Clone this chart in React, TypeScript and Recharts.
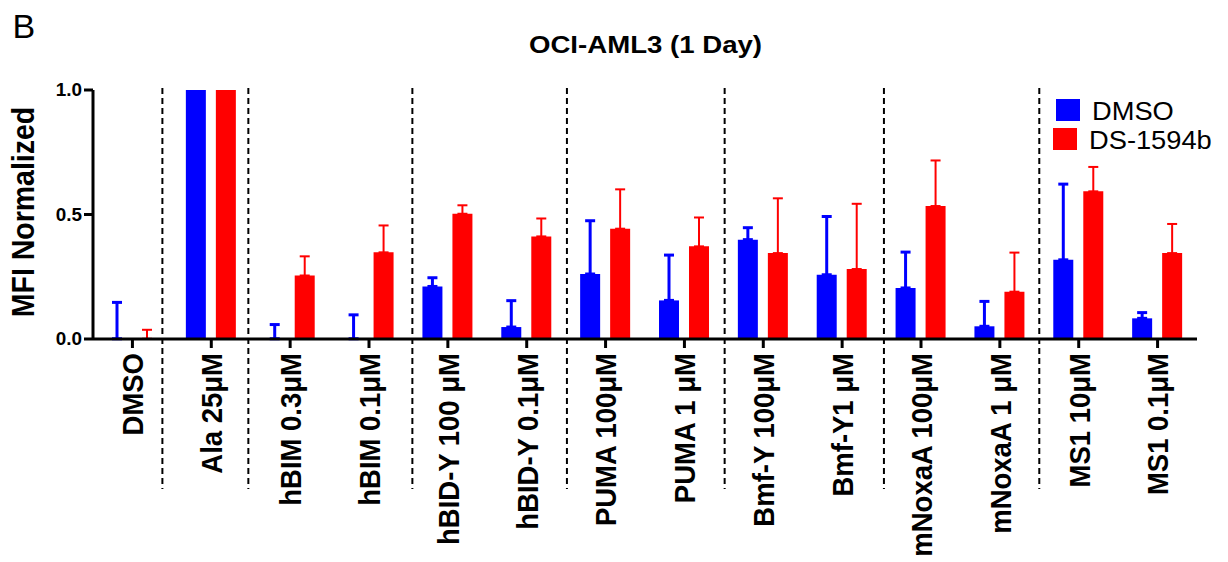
import { Bar, BarChart, ErrorBar, Legend, ReferenceLine, XAxis, YAxis } from 'recharts'

const categories = [
  'DMSO',
  'Ala 25μM',
  'hBIM 0.3μM',
  'hBIM 0.1μM',
  'hBID-Y 100 μM',
  'hBID-Y 0.1μM',
  'PUMA 100μM',
  'PUMA 1 μM',
  'Bmf-Y 100μM',
  'Bmf-Y1 μM',
  'mNoxaA 100μM',
  'mNoxaA 1 μM',
  'MS1 10μM',
  'MS1 0.1μM',
]

// near-zero means are kept just above 0 so that their SD whiskers are still drawn
const dmso = [0.001, 1.0, 0.001, 0.001, 0.211, 0.048, 0.261, 0.155, 0.399, 0.258, 0.205, 0.051, 0.318, 0.083]
const dmsoSd = [0.146, 0, 0.057, 0.096, 0.035, 0.106, 0.214, 0.182, 0.048, 0.234, 0.144, 0.1, 0.304, 0.023]
const ds1594b = [0.001, 1.0, 0.255, 0.348, 0.503, 0.412, 0.443, 0.372, 0.345, 0.281, 0.534, 0.19, 0.593, 0.345]
const ds1594bSd = [0.036, 0, 0.077, 0.108, 0.034, 0.072, 0.158, 0.116, 0.22, 0.262, 0.183, 0.157, 0.098, 0.117]

// group separators, in category index units
const separators = [0.38, 1.47, 3.55, 5.51, 7.51, 9.53, 11.5]
const yTicks = [0, 0.5, 1]
const xTicks = categories.map((_, i) => i)

const data = categories.map((name, i) => ({
  idx: i,
  name,
  dmso: dmso[i],
  dmsoErr: dmsoSd[i] ? [0, dmsoSd[i]] : null,
  ds: ds1594b[i],
  dsErr: ds1594bSd[i] ? [0, ds1594bSd[i]] : null,
}))

const FONT = '"Liberation Sans", Arial, sans-serif'

function XTick({ x, y, payload }: any) {
  return (
    <text
      transform={`translate(${x},${y + 3}) scale(1.1,1) rotate(-90)`}
      y={9.8}
      textAnchor="end"
      fontSize={27.5}
      fontWeight="bold"
      fontFamily={FONT}
      fill="#000"
    >
      {categories[payload.value]}
    </text>
  )
}

function YTick({ x, y, payload }: any) {
  return (
    <text
      transform={`translate(${x},${y}) scale(1.08,1)`}
      dy={6.2}
      textAnchor="end"
      fontSize={17.5}
      fontWeight="bold"
      fontFamily={FONT}
      fill="#000"
    >
      {Number(payload.value).toFixed(1)}
    </text>
  )
}

function Separator(props: any) {
  const top = Math.min(props.y1, props.y2)
  const bottom = Math.max(props.y1, props.y2)
  return (
    <line
      x1={props.x1}
      x2={props.x2}
      y1={top - 2}
      y2={bottom + 150}
      stroke="#000"
      strokeWidth={2}
      strokeDasharray="6 4"
    />
  )
}

const legendPos = [
  { sx: 6, sy: 4, tx: 42, ty: 25 },
  { sx: 3, sy: 33, tx: 39, ty: 54 },
]

function LegendBox({ payload }: any) {
  return (
    <svg width={180} height={60} style={{ overflow: 'visible' }}>
      {(payload ?? []).map((entry: any, i: number) => {
        const p = legendPos[i] ?? legendPos[0]
        return (
          <g key={entry.value}>
            <rect x={p.sx} y={p.sy} width={24} height={22} fill={entry.color} />
            <text
              transform={`translate(${p.tx},${p.ty}) scale(1.07,1)`}
              fontSize={25.5}
              fontFamily={FONT}
              fill="#000"
            >
              {entry.value}
            </text>
          </g>
        )
      })}
    </svg>
  )
}

export default function App() {
  return (
    <div
      style={{
        position: 'absolute',
        left: 0,
        top: 0,
        width: 1228,
        height: 562,
        background: '#fff',
        fontFamily: FONT,
      }}
    >
      <BarChart
        width={1228}
        height={562}
        data={data}
        margin={{ top: 90, right: 31, left: 0, bottom: 0 }}
        barSize={20}
        barGap={10}
      >
        <XAxis
          type="number"
          dataKey="idx"
          domain={[-0.5, 13.5]}
          ticks={xTicks}
          interval={0}
          height={223}
          tickSize={9}
          tick={<XTick />}
          axisLine={{ stroke: '#000', strokeWidth: 3 }}
          tickLine={{ stroke: '#000', strokeWidth: 3 }}
        />
        <YAxis
          domain={[0, 1]}
          ticks={yTicks}
          width={93}
          tickSize={9}
          tick={<YTick />}
          axisLine={{ stroke: '#000', strokeWidth: 3 }}
          tickLine={{ stroke: '#000', strokeWidth: 3 }}
        />
        {separators.map((s) => (
          <ReferenceLine key={s} x={s} shape={Separator} />
        ))}
        <Legend
          layout="horizontal"
          verticalAlign="middle"
          align="center"
          content={<LegendBox />}
          wrapperStyle={{ left: 1050, top: 95, width: 180, height: 60 }}
        />
        <Bar dataKey="dmso" name="DMSO" fill="#0000ff" isAnimationActive={false}>
          <ErrorBar dataKey="dmsoErr" width={5} stroke="#0000ff" strokeWidth={3} direction="y" />
        </Bar>
        <Bar dataKey="ds" name="DS-1594b" fill="#ff0000" isAnimationActive={false}>
          <ErrorBar dataKey="dsErr" width={5} stroke="#ff0000" strokeWidth={2} direction="y" />
        </Bar>
      </BarChart>
      <svg
        width={1228}
        height={562}
        style={{ position: 'absolute', left: 0, top: 0, pointerEvents: 'none' }}
      >
        <text x={12.5} y={38} fontSize={34} fontFamily={FONT} fill="#000">
          B
        </text>
        <text
          transform="translate(645.5,53.3) scale(1.15,1)"
          textAnchor="middle"
          fontSize={24}
          fontWeight="bold"
          fontFamily={FONT}
          fill="#000"
        >
          OCI-AML3 (1 Day)
        </text>
        <text
          transform="translate(34,212) scale(1.1,1) rotate(-90)"
          textAnchor="middle"
          fontSize={28.5}
          fontWeight="bold"
          fontFamily={FONT}
          fill="#000"
        >
          MFI Normalized
        </text>
      </svg>
    </div>
  )
}
